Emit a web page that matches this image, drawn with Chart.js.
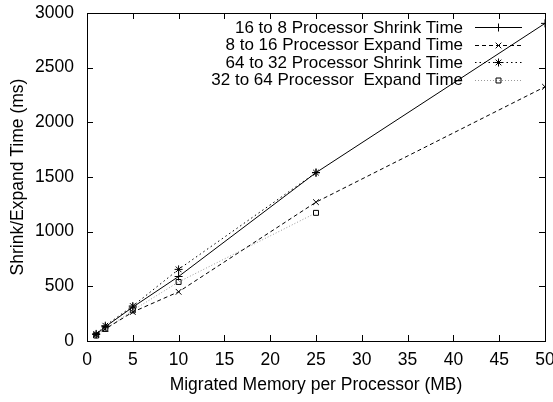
<!DOCTYPE html>
<html>
<head>
<meta charset="utf-8">
<script src="https://cdn.jsdelivr.net/npm/chart.js@4"></script>
<style>
  html, body { margin: 0; padding: 0; background: #fff; }
  #wrap { width: 553px; height: 402px; }
</style>
</head>
<body>
<div id="wrap"><canvas id="memChart" width="553" height="402"></canvas></div>
<script>
// migrated memory per processor (MB)
const memSizes = [1, 2, 5, 10, 25, 50];
const shortSizes = [1, 2, 5, 10, 25];

const shrink16to8 = [60, 130, 310, 590, 1540, 2905];
const expand8to16 = [55, 110, 265, 450, 1270, 2325];
const shrink64to32 = [65, 140, 320, 655, 1540];
const expand32to64 = [50, 110, 280, 540, 1172];

const seriesLabels = [
  '16 to 8 Processor Shrink Time',
  '8 to 16 Processor Expand Time',
  '64 to 32 Processor Shrink Time',
  '32 to 64 Processor  Expand Time'
];

const xTicks = [0, 5, 10, 15, 20, 25, 30, 35, 40, 45, 50];
const yTicks = [0, 500, 1000, 1500, 2000, 2500, 3000];

const FONT = 'Liberation Sans, Arial, Helvetica, sans-serif';
const FSIZE = 17.5;

function pairs(xs, ys) {
  return ys.map((y, i) => ({ x: xs[i], y: y }));
}

// styles per series: colour, dash, marker
const styles = [
  { color: '#000', dash: [], point: 'cross', radius: 4 },
  { color: '#000', dash: [4, 3], point: 'crossRot', radius: 4 },
  { color: '#000', dash: [1.5, 3], point: 'star', radius: 4 },
  { color: '#999', dash: [1, 2], point: 'rect', radius: 3.5 }
];

const seriesData = [
  pairs(memSizes, shrink16to8),
  pairs(memSizes, expand8to16),
  pairs(shortSizes, shrink64to32),
  pairs(shortSizes, expand32to64)
];

const datasets = seriesData.map((d, i) => ({
  label: seriesLabels[i],
  data: d,
  borderColor: styles[i].color,
  borderWidth: 1,
  borderDash: styles[i].dash,
  pointStyle: styles[i].point,
  pointRadius: styles[i].radius,
  pointBorderColor: '#000',
  pointBackgroundColor: 'rgba(0,0,0,0)',
  pointBorderWidth: 1,
  fill: false,
  tension: 0
}));

// box, inward ticks on all sides, and the legend
const framePlugin = {
  id: 'frame',
  afterDatasetsDraw(chart) {
    const { ctx, chartArea: a, scales } = chart;
    ctx.save();
    ctx.strokeStyle = '#000';
    ctx.lineWidth = 1;
    ctx.setLineDash([]);
    ctx.beginPath();
    xTicks.forEach(v => {
      const px = Math.round(scales.x.getPixelForValue(v)) + 0.5;
      ctx.moveTo(px, a.bottom); ctx.lineTo(px, a.bottom - 6);
      ctx.moveTo(px, a.top); ctx.lineTo(px, a.top + 6);
    });
    yTicks.forEach(v => {
      const py = Math.round(scales.y.getPixelForValue(v)) + 0.5;
      ctx.moveTo(a.left, py); ctx.lineTo(a.left + 6, py);
      ctx.moveTo(a.right, py); ctx.lineTo(a.right - 6, py);
    });
    ctx.stroke();
    ctx.strokeRect(Math.round(a.left) + 0.5, Math.round(a.top) + 0.5,
      Math.round(a.right - a.left), Math.round(a.bottom - a.top));

    // legend
    const textRight = a.right - 82;
    const lineL = a.right - 70, lineR = a.right - 23;
    ctx.font = '17px ' + FONT;
    ctx.textAlign = 'right';
    ctx.textBaseline = 'middle';
    ctx.fillStyle = '#000';
    seriesLabels.forEach((lbl, i) => {
      const y = a.top + 14 + i * 17.5;
      ctx.fillText(lbl, textRight, y + 1);
      ctx.strokeStyle = styles[i].color;
      ctx.setLineDash(styles[i].dash);
      ctx.beginPath();
      ctx.moveTo(lineL, Math.round(y) + 0.5);
      ctx.lineTo(lineR, Math.round(y) + 0.5);
      ctx.stroke();
      ctx.setLineDash([]);
      ctx.strokeStyle = '#000';
      ctx.fillStyle = 'rgba(0,0,0,0)';
      Chart.helpers.drawPoint(ctx, {
        pointStyle: styles[i].point,
        radius: styles[i].radius,
        borderWidth: 1,
        rotation: 0
      }, (lineL + lineR) / 2, Math.round(y) + 0.5);
      ctx.fillStyle = '#000';
    });
    ctx.restore();
  }
};

new Chart(document.getElementById('memChart'), {
  type: 'line',
  data: { datasets: datasets },
  options: {
    responsive: false,
    animation: false,
    layout: { padding: { top: 13, right: 8, left: 0, bottom: 0 } },
    plugins: {
      legend: { display: false },
      tooltip: { enabled: false }
    },
    scales: {
      x: {
        type: 'linear',
        min: 0,
        max: 50,
        afterBuildTicks: s => { s.ticks = xTicks.map(v => ({ value: v })); },
        afterFit: s => { s.height = 61; s.paddingLeft = 0; s.paddingRight = 0; },
        grid: { display: false, drawTicks: false },
        border: { display: false },
        ticks: { color: '#000', font: { family: FONT, size: FSIZE }, padding: 9, maxRotation: 0,
                 callback: v => String(v) },
        title: {
          display: true,
          text: 'Migrated Memory per Processor (MB)',
          color: '#000',
          font: { family: FONT, size: FSIZE },
          padding: { top: 0, bottom: 6 }
        }
      },
      y: {
        type: 'linear',
        min: 0,
        max: 3000,
        afterBuildTicks: s => { s.ticks = yTicks.map(v => ({ value: v })); },
        afterFit: s => { s.width = 87; s.paddingTop = 0; s.paddingBottom = 0; },
        grid: { display: false, drawTicks: false },
        border: { display: false },
        ticks: { color: '#000', font: { family: FONT, size: FSIZE }, padding: 13,
                 callback: v => String(v) },
        title: {
          display: true,
          text: 'Shrink/Expand Time (ms)',
          color: '#000',
          font: { family: FONT, size: FSIZE },
          padding: { top: 8, bottom: 0 }
        }
      }
    }
  },
  plugins: [framePlugin]
});
</script>
</body>
</html>
